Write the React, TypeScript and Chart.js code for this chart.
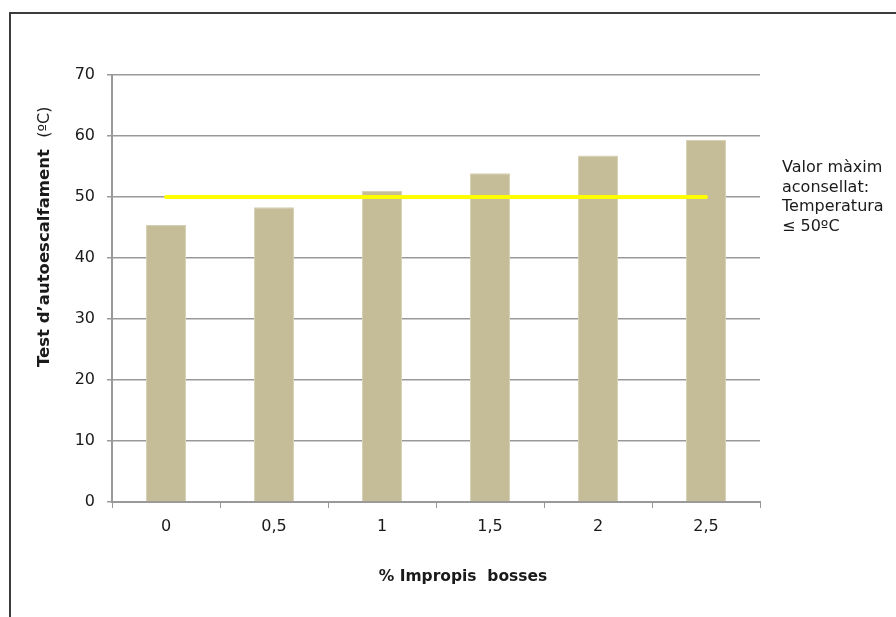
import React, { useEffect, useRef } from "react";
import { Chart, registerables } from "chart.js";

Chart.register(...registerables);

const categories = ["0", "0,5", "1", "1,5", "2", "2,5"];
const temperatures = [45.4, 48.3, 51.0, 53.9, 56.8, 59.4];
const limitValues = [50, 50, 50, 50, 50, 50];
const yTitleBold = "Test d\u2019autoescalfament";
const yTitleUnit = "(\u00baC)";
const xTitle = "% Impropis  bosses";
const noteLines = ["Valor m\u00e0xim", "aconsellat:", "Temperatura", "\u2264 50\u00baC"];

const FONT = "'DejaVu Sans', sans-serif";

const decorPlugin = {
  id: "decor",
  afterDraw(chart: any) {
    const ctx = chart.ctx as CanvasRenderingContext2D;
    const area = chart.chartArea;
    ctx.save();
    // frame
    ctx.strokeStyle = "#3c3c3c";
    ctx.lineWidth = 2;
    ctx.beginPath();
    ctx.moveTo(10, 617);
    ctx.lineTo(10, 13);
    ctx.lineTo(896, 13);
    ctx.stroke();

    // x title
    ctx.fillStyle = "#1a1a1a";
    ctx.font = `bold 15.5px ${FONT}`;
    ctx.textAlign = "center";
    ctx.textBaseline = "middle";
    ctx.fillText(xTitle, 463, 577);

    // y title (rotated, mixed weights)
    ctx.save();
    ctx.translate(45, 367);
    ctx.rotate(-Math.PI / 2);
    ctx.textAlign = "left";
    ctx.textBaseline = "middle";
    ctx.font = `bold 16.5px ${FONT}`;
    ctx.fillText(yTitleBold, 0, 0);
    const w = ctx.measureText(yTitleBold + "  ").width;
    ctx.font = `16px ${FONT}`;
    ctx.fillText(yTitleUnit, w, 0);
    ctx.restore();

    // note
    ctx.font = `16px ${FONT}`;
    ctx.textAlign = "left";
    ctx.textBaseline = "middle";
    noteLines.forEach((t, i) => ctx.fillText(t, area.right + 22, 168 + i * 19.5));
    ctx.restore();
  },
};

export default function App() {
  const ref = useRef<HTMLCanvasElement | null>(null);
  useEffect(() => {
    if (!ref.current) return;
    const chart = new Chart(ref.current, {
      type: "bar",
      data: {
        labels: categories,
        datasets: [
          {
            type: "line",
            label: "L\u00edmit",
            data: limitValues,
            borderColor: "#FFFF00",
            borderWidth: 4,
            pointRadius: 0,
            borderCapStyle: "round",
            order: 0,
          } as any,
          {
            type: "bar",
            label: "Test",
            data: temperatures,
            backgroundColor: "#C4BD97",
            borderColor: "#D6D0B4",
            borderWidth: 1,
            barPercentage: 0.37,
            categoryPercentage: 1,
            order: 1,
          },
        ],
      },
      options: {
        animation: false,
        responsive: false,
        devicePixelRatio: 1,
        layout: { padding: { top: 75, right: 136, left: 0, bottom: 0 } },
        plugins: { legend: { display: false }, tooltip: { enabled: false } },
        scales: {
          x: {
            offset: true,
            grid: {
              offset: true,
              drawOnChartArea: false,
              drawTicks: true,
              tickLength: 6,
              color: "#999999",
            },
            border: { color: "#999999", width: 2 },
            ticks: { color: "#1a1a1a", font: { family: FONT, size: 16 }, padding: 9 },
            afterFit(scale: any) {
              scale.height = 115;
            },
          },
          y: {
            min: 0,
            max: 70,
            ticks: { stepSize: 10, color: "#1a1a1a", font: { family: FONT, size: 16 }, padding: 12 },
            grid: { color: "#999999", lineWidth: 1.5, tickLength: 5 },
            border: { color: "#999999", width: 2 },
            afterFit(scale: any) {
              scale.width = 112;
            },
          },
        },
      },
      plugins: [decorPlugin],
    });
    return () => chart.destroy();
  }, []);
  return (
    <div style={{ position: "absolute", left: 0, top: 0, width: 896, height: 617, background: "#fff" }}>
      <canvas ref={ref} width={896} height={617} style={{ width: 896, height: 617, display: "block" }} />
    </div>
  );
}
